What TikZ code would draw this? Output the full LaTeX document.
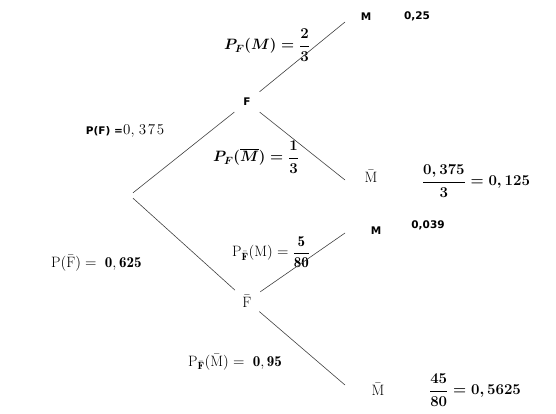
\RequirePackage{fix-cm}
\documentclass[tikz,border=0pt]{standalone}
\usepackage{amsmath}
\usepackage{fontspec}
\newfontfamily\lblfont{DejaVu Sans}
\tikzset{
  x=1pt, y=-1pt,
  branch/.style={draw=black!75, line width=0.6pt},
  inner/.style={circle, inner sep=0pt, minimum size=32pt},
  sanslbl/.style={inner sep=0pt, font=\lblfont\bfseries\fontsize{10.5}{12}\selectfont},
  mathlbl/.style={inner sep=0pt, font=\fontsize{15}{17}\selectfont},
  boldmathlbl/.style={inner sep=0pt, font=\fontsize{15}{17}\selectfont\boldmath},
  leaf/.style={inner sep=0pt, font=\fontsize{15}{17}\selectfont},
}
\begin{document}
\begin{tikzpicture}
\useasboundingbox (0,0) rectangle (556,413);
% root
\node[inner sep=0pt, minimum width=0pt, minimum height=5pt] (R) at (133,195.5) {};
% inner nodes
\node[inner, sanslbl] (F) at (247,102) {F};
\node[inner, leaf] (Fb) at (247,301) {$\bar{\mathrm{F}}$};
% branch ends
\coordinate (e1) at (345,22);
\coordinate (e2) at (345,180);
\coordinate (e3) at (345,233);
\coordinate (e4) at (345,385);
% leaves
\node[sanslbl] (M1) at (366,17) {M};
\node[leaf] (M2) at (371,176) {$\bar{\mathrm{M}}$};
\node[sanslbl] (M3) at (376,231) {M};
\node[leaf] (M4) at (378,389) {$\bar{\mathrm{M}}$};
% results
\node[sanslbl] (r1) at (417,16) {0,25};
\node[boldmathlbl] (r2) at (476,181) {$\dfrac{0,375}{3} = 0,125$};
\node[sanslbl] (r3) at (428,225) {0,039};
\node[boldmathlbl] (r4) at (475,390) {$\dfrac{45}{80} = 0,5625$};
% probabilities
\node[sanslbl, anchor=east] (pF) at (123,131) {P(F) =};
\node[mathlbl, anchor=west] (pFv) at (pF.east) {$0,\mkern2mu3\mkern2mu7\mkern2mu5$};
\node[boldmathlbl, anchor=west] (pFM) at (224,45) {$P_{F}(M) = \dfrac{2}{3}$};
\node[boldmathlbl, anchor=west] (pFMb) at (213,157) {$P_{F}(\overline{M}) = \dfrac{1}{3}$};
\node[mathlbl, anchor=west] (pFb) at (51,263) {$\mathrm{P}(\bar{\mathrm{F}}) = \;\mathbf{0,625}$};
\node[mathlbl, anchor=west] (pFbM) at (232,252) {$\mathrm{P}_{\bar{\mathbf{F}}}(\mathrm{M}) = \dfrac{\mathbf{5}}{\mathbf{80}}$};
\node[mathlbl, anchor=west] (pFbMb) at (188,362) {$\mathrm{P}_{\bar{\mathbf{F}}}(\bar{\mathrm{M}}) = \;\mathbf{0,95}$};
% branches
\draw[branch] (R.north) -- (F);
\draw[branch] (R.south) -- (Fb);
\draw[branch] (F) -- (e1);
\draw[branch] (F) -- (e2);
\draw[branch] (Fb) -- (e3);
\draw[branch] (Fb) -- (e4);
\end{tikzpicture}
\end{document}
